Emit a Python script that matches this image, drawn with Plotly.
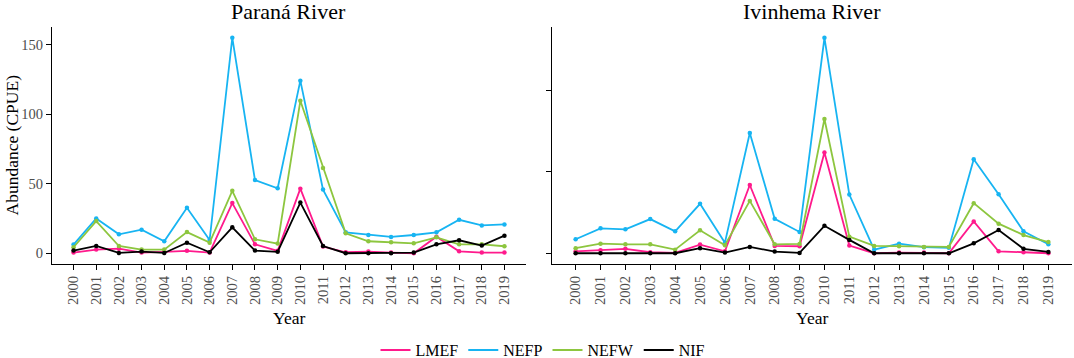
import plotly.graph_objects as go

years = list(range(2000, 2020))
series_names = ["LMEF", "NEFP", "NEFW", "NIF"]
colors = {"LMEF": "#FF1A8C", "NEFP": "#17B4F2", "NEFW": "#8DC63F", "NIF": "#000000"}

# Paraná River
parana_LMEF = [0.5, 2.6, 3.3, 0.5, 1.0, 1.7, 0.5, 36.0, 6.4, 1.7, 46.4, 4.8, 0.7, 1.2, 0.5, 0.0, 11.9, 1.4, 0.5, 0.5]
parana_NEFP = [6.2, 25.0, 13.6, 16.9, 8.6, 32.6, 9.5, 154.8, 52.6, 46.7, 124.0, 45.7, 15.0, 13.1, 11.7, 13.1, 15.0, 24.0, 20.0, 20.7]
parana_NEFW = [4.3, 23.1, 5.2, 2.6, 2.6, 15.2, 7.6, 44.8, 10.0, 6.9, 109.5, 61.2, 14.3, 8.6, 7.9, 7.1, 11.4, 6.4, 6.4, 5.0]
parana_NIF = [1.9, 5.2, 0.2, 1.2, 0.2, 7.6, 0.7, 18.6, 1.9, 1.0, 36.4, 5.2, 0.0, 0.0, 0.0, 0.5, 6.4, 9.3, 5.5, 12.6]

# Ivinhema River
ivinhema_LMEF = [1.2, 1.8, 2.7, 0.6, 0.2, 5.3, 1.2, 42.0, 4.5, 4.3, 62.0, 4.7, 0.0, 0.4, 0.4, 0.0, 19.6, 1.2, 0.6, 0.0]
ivinhema_NEFP = [8.6, 15.3, 14.7, 21.0, 13.5, 30.4, 6.5, 74.0, 21.2, 13.1, 132.6, 36.1, 2.2, 5.9, 3.7, 3.3, 57.9, 36.3, 13.5, 5.5]
ivinhema_NEFW = [3.1, 5.9, 5.5, 5.5, 2.2, 14.1, 4.9, 32.2, 5.5, 5.7, 82.6, 10.2, 4.5, 4.3, 3.9, 3.9, 30.8, 18.2, 11.2, 6.9]
ivinhema_NIF = [0.0, 0.0, 0.0, 0.0, 0.0, 3.1, 0.4, 3.9, 1.0, 0.2, 16.9, 8.2, 0.0, 0.0, 0.0, 0.0, 6.1, 14.3, 2.7, 0.8]

panel_titles = ["Paraná River", "Ivinhema River"]
x_title = "Year"
y_title = "Abundance (CPUE)"
y_ticks = [0, 50, 100, 150]

parana = {"LMEF": parana_LMEF, "NEFP": parana_NEFP, "NEFW": parana_NEFW, "NIF": parana_NIF}
ivinhema = {"LMEF": ivinhema_LMEF, "NEFP": ivinhema_NEFP, "NEFW": ivinhema_NEFW, "NIF": ivinhema_NIF}

FONT = "Liberation Serif"
W, H = 1074, 358

fig = go.Figure()
for data, xa, ya in [(parana, "x", "y"), (ivinhema, "x2", "y2")]:
    for name in series_names:
        fig.add_trace(go.Scatter(
            x=years, y=data[name], mode="lines+markers", name=name,
            line=dict(color=colors[name], width=1.8),
            marker=dict(color=colors[name], size=4.5),
            xaxis=xa, yaxis=ya, showlegend=False, hoverinfo="x+y+name"))
# legend entries (line keys only)
for name in series_names:
    fig.add_trace(go.Scatter(x=[None], y=[None], mode="lines", name=name,
                             line=dict(color=colors[name], width=2), showlegend=True))

ydom = [(H - 264) / H, (H - 27) / H]
xdom1 = [52 / W, 526 / W]
xdom2 = [552 / W, 1072 / W]

def yrange(d):
    m = max(max(v) for v in d.values())
    return [-0.05 * m, m * 1.05]

TICKFONT = dict(family=FONT, size=14.5, color="#4D4D4D")
common_x = dict(
    tickmode="array", tickvals=years, ticktext=[str(y) for y in years],
    tickangle=-90, range=[1999.05, 2019.95], showline=True, linecolor="black",
    linewidth=1.2, ticks="outside", ticklen=5, tickcolor="black", tickwidth=1,
    showgrid=False, zeroline=False, automargin=False, tickfont=TICKFONT,
)
common_y = dict(
    tickmode="array", tickvals=y_ticks, showline=True, linecolor="black",
    linewidth=1.2, ticks="outside", ticklen=5, tickcolor="black", tickwidth=1,
    showgrid=False, zeroline=False, automargin=False, tickfont=TICKFONT,
)

def ann(text, x, y, size, angle=0):
    return dict(text=text, x=x / W, y=1 - y / H, xref="paper", yref="paper",
                showarrow=False, textangle=angle, xanchor="center", yanchor="middle",
                font=dict(family=FONT, size=size, color="black"))

cx1 = (xdom1[0] + xdom1[1]) / 2 * W
cx2 = (xdom2[0] + xdom2[1]) / 2 * W

fig.update_layout(
    width=W, height=H,
    margin=dict(l=0, r=0, t=0, b=0, autoexpand=False),
    paper_bgcolor="white", plot_bgcolor="white",
    font=dict(family=FONT, color="black"),
    xaxis=dict(domain=xdom1, anchor="y", **common_x),
    xaxis2=dict(domain=xdom2, anchor="y2", **common_x),
    yaxis=dict(domain=ydom, anchor="x", range=yrange(parana), **common_y),
    yaxis2=dict(domain=ydom, anchor="x2", range=yrange(ivinhema), showticklabels=False, **common_y),
    legend=dict(orientation="h", x=543 / W, xanchor="center", y=(H - 350) / H, yanchor="middle",
                font=dict(family=FONT, size=16, color="black"), itemwidth=30,
                bgcolor="rgba(0,0,0,0)"),
    annotations=[
        ann(panel_titles[0], cx1, 12, 22),
        ann(panel_titles[1], cx2, 12, 22),
        ann(x_title, cx1, 318, 17.5),
        ann(x_title, cx2, 318, 17.5),
        ann(y_title, 11, (27 + 264) / 2, 17.5, -90),
    ],
)

fig.write_html("out.html", config={"displayModeBar": False},
               post_script="document.body.style.margin='0';document.body.style.overflow='hidden';")
